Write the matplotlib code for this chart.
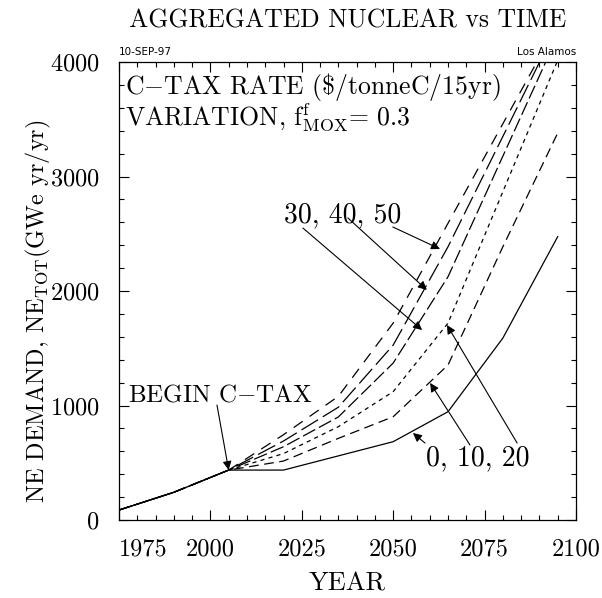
import numpy as np
import matplotlib
matplotlib.use("Agg")
import matplotlib.pyplot as plt

plt.rcParams['font.family'] = 'serif'
plt.rcParams['font.serif'] = ['cmr10']
plt.rcParams['mathtext.fontset'] = 'cm'
plt.rcParams['axes.formatter.use_mathtext'] = True
plt.rcParams['lines.scale_dashes'] = False

# NE demand (GWe yr/yr) for carbon-tax rates 0..50 $/tonneC/15yr
years = [1975, 1990, 2005, 2020, 2035, 2050, 2065, 2080, 2095]
tax0 = [87, 242, 436, 436, 560, 684, 946, 1589, 2475]
tax10 = [87, 242, 436, 515, 713, 902, 1354, 2387, 3380]
tax20 = [87, 242, 436, 580, 815, 1121, 1720, 2868, 4015]
tax30 = [87, 242, 436, 640, 900, 1371, 2125, 3178, 4230]
tax40 = [87, 242, 436, 690, 985, 1528, 2387, 3350, 4320]
tax50 = [87, 242, 436, 745, 1080, 1720, 2592, 3461, 4330]

series = [tax0, tax10, tax20, tax30, tax40, tax50]
styles = ['-', (0, (7, 4)), (0, (3, 3)), (0, (10, 3)), (0, (14, 4)), (0, (8, 6))]

fig = plt.figure(figsize=(6.02, 5.98), dpi=100)
ax = fig.add_axes([119 / 602, 1 - 520 / 598, 457 / 602, 458 / 598])

for vals, ls in zip(series, styles):
    ax.plot(years, vals, color='black', lw=0.9, linestyle=ls)

ax.set_xlim(1975, 2100)
ax.set_ylim(0, 4000)
ax.set_xticks(np.arange(1975, 2101, 25))
ax.set_xticks(np.arange(1975, 2101, 5), minor=True)
ax.set_yticks(np.arange(0, 4001, 1000))
ax.set_yticks(np.arange(0, 4001, 200), minor=True)
ax.set_xticklabels([str(y) for y in range(1975, 2101, 25)])
ax.get_xticklabels()[0].set_ha('left')
ax.tick_params(which='both', direction='in', top=True, right=True, labelsize=17.5, width=0.8)
ax.tick_params(which='major', length=7.5)
ax.tick_params(which='minor', length=3.6)
ax.tick_params(axis='x', pad=13)
ax.tick_params(axis='y', pad=14)
for s in ax.spines.values():
    s.set_linewidth(0.9)

ax.set_xlabel('YEAR', fontsize=19, labelpad=8)
ax.set_ylabel(r'NE DEMAND, NE$_{\rm TOT}$(GWe yr/yr)', fontsize=17.5)
ax.yaxis.set_label_coords(-0.145, 0.455)
fig.suptitle('AGGREGATED NUCLEAR vs TIME', fontsize=18.5, y=0.985, x=348 / 602)

ax.text(0.0, 1.012, '10-SEP-97', transform=ax.transAxes, fontsize=7.5,
        family='DejaVu Sans', ha='left', va='bottom')
ax.text(1.0, 1.012, 'Los Alamos', transform=ax.transAxes, fontsize=7.5,
        family='DejaVu Sans', ha='right', va='bottom')

ax.text(0.013, 0.945, r'C$-$TAX RATE (\$/tonneC/15yr)', transform=ax.transAxes,
        fontsize=18.5, ha='left', va='center')
ax.text(0.013, 0.88, r'VARIATION, f$^{\rm f}_{\rm MOX}$= 0.3', transform=ax.transAxes,
        fontsize=18.5, ha='left', va='center')

arrow = dict(arrowstyle='-|>', color='black', lw=0.8, mutation_scale=13,
             shrinkA=0, shrinkB=0)

ax.text(1977.5, 1092, r'BEGIN C$-$TAX', fontsize=18, ha='left', va='center')
ax.annotate('', xy=(years[2], tax0[2]), xytext=(2001.8, 1004), arrowprops=arrow)

ax.text(2020.2, 2664, '30, 40, 50', fontsize=20, ha='left', va='center')
ax.annotate('', xy=(2057.9, 1659), xytext=(2025.3, 2550), arrowprops=arrow)
ax.annotate('', xy=(2059.2, 2009), xytext=(2037.6, 2638), arrowprops=arrow)
ax.annotate('', xy=(2062.8, 2367), xytext=(2049.9, 2559), arrowprops=arrow)

ax.text(2059.0, 541, '0, 10, 20', fontsize=20, ha='left', va='center')
ax.annotate('', xy=(2055.4, 760), xytext=(2058.7, 672), arrowprops=arrow)
ax.annotate('', xy=(2060.1, 1197), xytext=(2071.0, 655), arrowprops=arrow)
ax.annotate('', xy=(2064.7, 1703), xytext=(2083.9, 672), arrowprops=arrow)

fig.savefig('out.png', dpi=100)
